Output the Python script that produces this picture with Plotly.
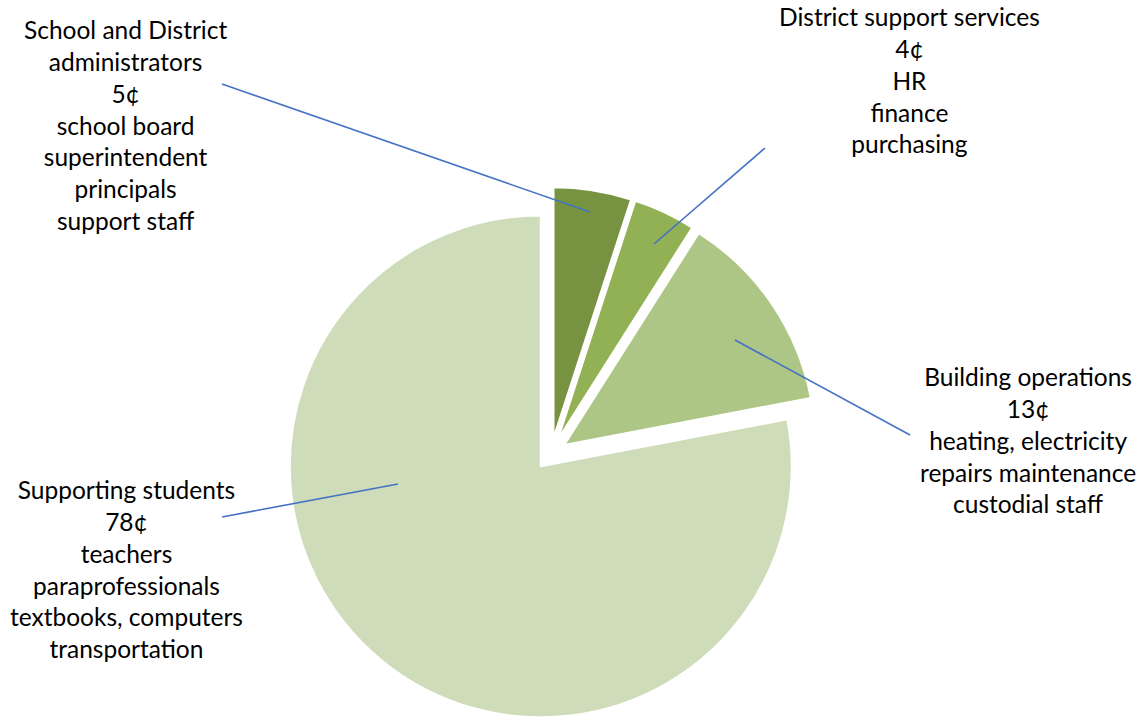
import plotly.graph_objects as go

W, H = 1144, 721

# ---- data ----
categories = ["School and District administrators", "District support services",
              "Building operations", "Supporting students"]
values = [5, 4, 13, 78]
label_lines = [
    ["School and District", "administrators", "5¢", "school board",
     "superintendent", "principals", "support staff"],
    ["District support services", "4¢", "HR", "finance", "purchasing"],
    ["Building operations", "13¢", "heating, electricity",
     "repairs maintenance", "custodial staff"],
    ["Supporting students", "78¢", "teachers", "paraprofessionals",
     "textbooks, computers", "transportation"],
]
colors = ["#779240", "#92B155", "#ADC685", "#CFDCB9"]

# ---- layout helpers (pixel positions -> paper) ----
def px(x):
    return x / W

def py(y):
    return 1 - y / H

label_pos = [(125, 124.5), (909, 80), (1028, 440), (126, 568.5)]
leaders = [((222, 84), (590, 212)), ((765, 148), (654, 244)),
           ((910, 435), (735, 340)), ((222, 517), (398, 484))]

pull = 0.064
fig = go.Figure(go.Pie(
    labels=categories, values=values, sort=False, direction="clockwise",
    rotation=0, pull=[pull] * 4, textinfo="none", hoverinfo="label+value",
    marker=dict(colors=colors, line=dict(color="white", width=2)),
    domain=dict(x=[px(284), px(818)], y=[0, 534 / H]),
))

annotations = []
for lines, (x, y) in zip(label_lines, label_pos):
    annotations.append(dict(
        text="<br>".join(lines), x=px(x), y=py(y), xref="paper", yref="paper",
        xanchor="center", yanchor="middle", showarrow=False, align="center",
        font=dict(family="Lato", size=24.5, color="#000000"),
    ))

shapes = []
for (a, b) in leaders:
    shapes.append(dict(type="line", xref="paper", yref="paper",
                       x0=px(a[0]), y0=py(a[1]), x1=px(b[0]), y1=py(b[1]),
                       line=dict(color="#4472C4", width=1.6)))

fig.update_layout(
    width=W, height=H, margin=dict(l=0, r=0, t=0, b=0),
    paper_bgcolor="white", plot_bgcolor="white", showlegend=False,
    annotations=annotations, shapes=shapes,
)
fig.write_html("out.html")
